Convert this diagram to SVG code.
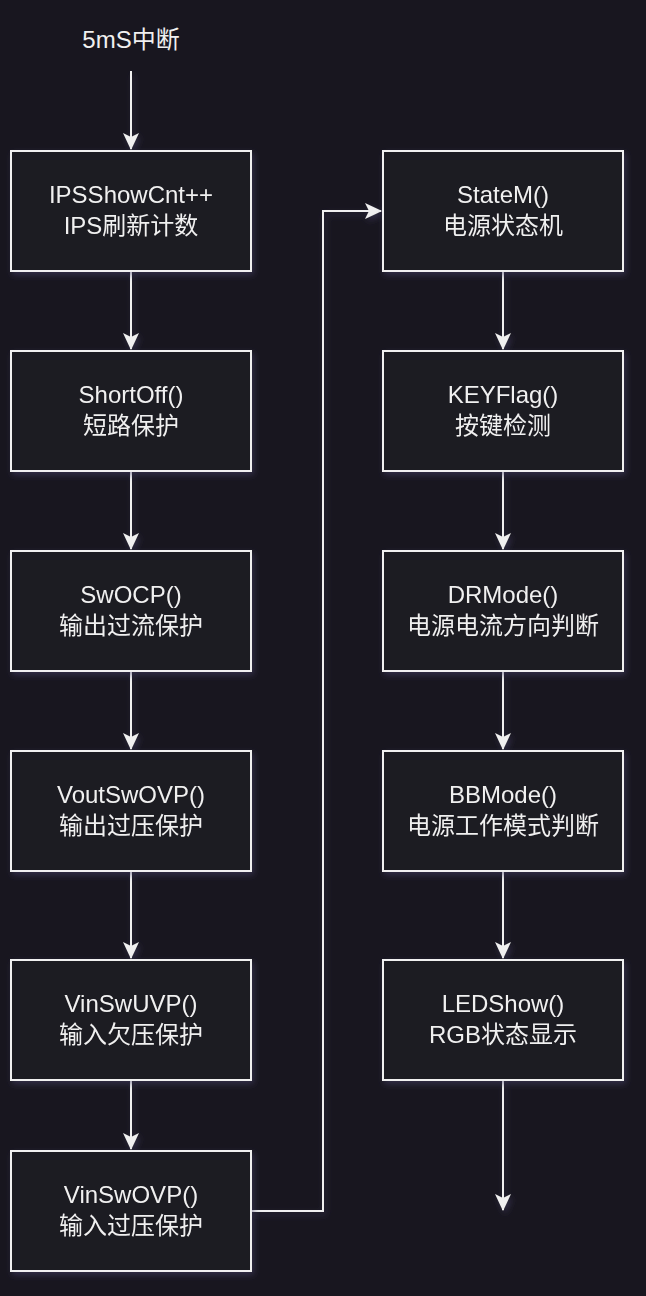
<svg xmlns="http://www.w3.org/2000/svg" width="646" height="1296" viewBox="0 0 646 1296">
<style>
.bg{fill:#18161f}
.box{fill:#1b1a20;stroke:#f0f0f0;stroke-width:2}
.t{font-family:"Liberation Sans","Noto Sans CJK SC",sans-serif;font-size:24px;fill:#f0f0f0;text-anchor:middle}
.c{fill:none;stroke:#f0f0f0;stroke-width:2}
</style>
<defs>
<filter id="sh" x="-20%" y="-20%" width="140%" height="140%">
<feDropShadow dx="2" dy="3" stdDeviation="3" flood-color="#4a4670" flood-opacity="0.5"/>
</filter>
<marker id="ah" viewBox="0 0 17 16" refX="16" refY="8" markerWidth="17" markerHeight="16" markerUnits="userSpaceOnUse" orient="auto">
<path d="M0,0 L17,8 L0,16 L4,8 Z" fill="#f0f0f0"/>
</marker>
</defs>
<rect class="bg" x="0" y="0" width="646" height="1296"/>
<g id="start"><text class="t" x="131" y="48">5mS中断</text></g>
<g id="connectors" filter="url(#sh)">
<path class="c" d="M131,71 V149" marker-end="url(#ah)"/>
<path class="c" d="M131,271 V349" marker-end="url(#ah)"/>
<path class="c" d="M131,471 V549" marker-end="url(#ah)"/>
<path class="c" d="M131,671 V749" marker-end="url(#ah)"/>
<path class="c" d="M131,871 V958" marker-end="url(#ah)"/>
<path class="c" d="M131,1080 V1149" marker-end="url(#ah)"/>
<path class="c" d="M251,1211 H323 V211 H381" marker-end="url(#ah)"/>
<path class="c" d="M503,271 V349" marker-end="url(#ah)"/>
<path class="c" d="M503,471 V549" marker-end="url(#ah)"/>
<path class="c" d="M503,671 V749" marker-end="url(#ah)"/>
<path class="c" d="M503,871 V958" marker-end="url(#ah)"/>
<path class="c" d="M503,1080 V1210" marker-end="url(#ah)"/>
</g>
<g id="n1" filter="url(#sh)"><rect class="box" x="11" y="151" width="240" height="120"/><text class="t" x="131" y="203">IPSShowCnt++</text><text class="t" x="131" y="234">IPS刷新计数</text></g>
<g id="n2" filter="url(#sh)"><rect class="box" x="11" y="351" width="240" height="120"/><text class="t" x="131" y="403">ShortOff()</text><text class="t" x="131" y="434">短路保护</text></g>
<g id="n3" filter="url(#sh)"><rect class="box" x="11" y="551" width="240" height="120"/><text class="t" x="131" y="603">SwOCP()</text><text class="t" x="131" y="634">输出过流保护</text></g>
<g id="n4" filter="url(#sh)"><rect class="box" x="11" y="751" width="240" height="120"/><text class="t" x="131" y="803">VoutSwOVP()</text><text class="t" x="131" y="834">输出过压保护</text></g>
<g id="n5" filter="url(#sh)"><rect class="box" x="11" y="960" width="240" height="120"/><text class="t" x="131" y="1012">VinSwUVP()</text><text class="t" x="131" y="1043">输入欠压保护</text></g>
<g id="n6" filter="url(#sh)"><rect class="box" x="11" y="1151" width="240" height="120"/><text class="t" x="131" y="1203">VinSwOVP()</text><text class="t" x="131" y="1234">输入过压保护</text></g>
<g id="n7" filter="url(#sh)"><rect class="box" x="383" y="151" width="240" height="120"/><text class="t" x="503" y="203">StateM()</text><text class="t" x="503" y="234">电源状态机</text></g>
<g id="n8" filter="url(#sh)"><rect class="box" x="383" y="351" width="240" height="120"/><text class="t" x="503" y="403">KEYFlag()</text><text class="t" x="503" y="434">按键检测</text></g>
<g id="n9" filter="url(#sh)"><rect class="box" x="383" y="551" width="240" height="120"/><text class="t" x="503" y="603">DRMode()</text><text class="t" x="503" y="634">电源电流方向判断</text></g>
<g id="n10" filter="url(#sh)"><rect class="box" x="383" y="751" width="240" height="120"/><text class="t" x="503" y="803">BBMode()</text><text class="t" x="503" y="834">电源工作模式判断</text></g>
<g id="n11" filter="url(#sh)"><rect class="box" x="383" y="960" width="240" height="120"/><text class="t" x="503" y="1012">LEDShow()</text><text class="t" x="503" y="1043">RGB状态显示</text></g>
</svg>
